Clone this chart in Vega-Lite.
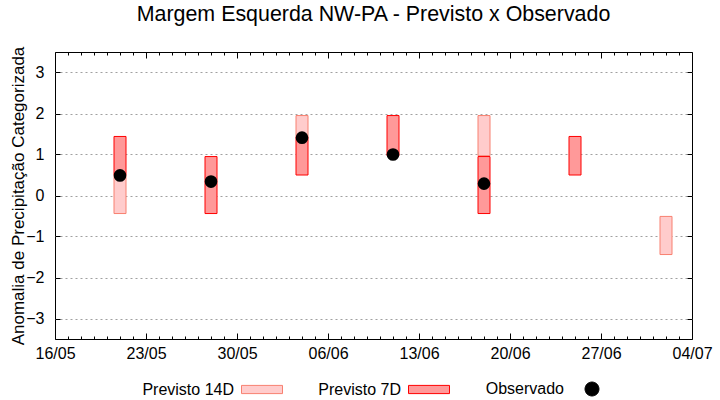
{
  "$schema": "https://vega.github.io/schema/vega-lite/v6.json",
  "width": 637,
  "height": 287,
  "autosize": "none",
  "padding": {"left": 55, "top": 52, "right": 28, "bottom": 61},
  "background": "white",
  "title": {"text": "Margem Esquerda NW-PA - Previsto x Observado", "fontSize": 21.4, "fontWeight": "normal", "font": "Liberation Sans", "color": "black", "offset": 21},
  "datasets": {
    "bars": [
      {"d": "2024-05-21T00:00:00", "s": "Previsto 14D", "lo": -0.44, "hi": 0.5},
      {"d": "2024-06-04T00:00:00", "s": "Previsto 14D", "lo": 1.44, "hi": 1.95},
      {"d": "2024-06-18T00:00:00", "s": "Previsto 14D", "lo": 0.97, "hi": 1.95},
      {"d": "2024-07-02T00:00:00", "s": "Previsto 14D", "lo": -1.44, "hi": -0.51},
      {"d": "2024-05-21T00:00:00", "s": "Previsto 7D", "lo": 0.5, "hi": 1.44},
      {"d": "2024-05-28T00:00:00", "s": "Previsto 7D", "lo": -0.44, "hi": 0.95},
      {"d": "2024-06-04T00:00:00", "s": "Previsto 7D", "lo": 0.5, "hi": 1.44},
      {"d": "2024-06-11T00:00:00", "s": "Previsto 7D", "lo": 0.97, "hi": 1.95},
      {"d": "2024-06-18T00:00:00", "s": "Previsto 7D", "lo": -0.44, "hi": 0.95},
      {"d": "2024-06-25T00:00:00", "s": "Previsto 7D", "lo": 0.5, "hi": 1.44}
    ],
    "obs": [
      {"d": "2024-05-21T00:00:00", "s": "Observado", "v": 0.49},
      {"d": "2024-05-28T00:00:00", "s": "Observado", "v": 0.34},
      {"d": "2024-06-04T00:00:00", "s": "Observado", "v": 1.41},
      {"d": "2024-06-11T00:00:00", "s": "Observado", "v": 1.0},
      {"d": "2024-06-18T00:00:00", "s": "Observado", "v": 0.29}
    ]
  },
  "layer": [
    {
      "data": {"name": "bars"},
      "mark": {"type": "bar", "width": 12, "strokeWidth": 1, "opacity": 1},
      "encoding": {
        "x": {
          "field": "d", "type": "temporal",
          "scale": {"domain": [{"year": 2024, "month": 5, "date": 16}, {"year": 2024, "month": 7, "date": 4}], "nice": false, "padding": 0},
          "axis": {
            "orient": "bottom", "title": null, "domain": false, "grid": false,
            "tickCount": {"interval": "day", "step": 1},
            "labelExpr": "day(datum.value) == 4 ? timeFormat(datum.value, '%d/%m') : ''",
            "labelOverlap": false, "labelFlush": false,
            "tickColor": "black",
            "tickSize": {"condition": {"test": "day(datum.value) == 4", "value": -6}, "value": -3},
            "labelFontSize": 16, "labelColor": "black", "labelPadding": 12
          }
        },
        "y": {
          "field": "lo", "type": "quantitative",
          "scale": {"domain": [-3.5, 3.5], "nice": false, "zero": false},
          "axis": {
            "orient": "left", "values": [-3, -2, -1, 0, 1, 2, 3], "domain": false,
            "title": "Anomalia de Precipitação Categorizada", "titleFontSize": 17, "titleFontWeight": "normal", "titleColor": "black", "titlePadding": -2,
            "grid": true, "gridColor": "#a0a0a0", "gridDash": [2, 3], "gridWidth": 1,
            "tickSize": -5, "tickColor": "black", "labelFontSize": 16, "labelColor": "black", "labelPadding": 16
          }
        },
        "y2": {"field": "hi"},
        "fill": {
          "field": "s", "type": "nominal",
          "scale": {"domain": ["Previsto 14D", "Previsto 7D", "Observado"], "range": ["#ffcccc", "#ff9999", "#000000"]},
          "legend": {
            "title": null, "orient": "none", "legendX": 186, "legendY": 316, "direction": "horizontal",
            "labelAlign": "right", "labelOffset": -49, "columnPadding": 33, "labelFontSize": 16, "labelColor": "black",
            "symbolSize": 1681, "symbolStrokeWidth": 1, "symbolOpacity": 1,
            "encode": {
              "symbols": {"update": {"shape": {"signal": "datum.value === 'Observado' ? 'M-0.34,0A0.34,0.34,0,1,1,0.34,0A0.34,0.34,0,1,1,-0.34,0Z' : 'M-1,-0.2H1V0.2H-1Z'"}}}
            }
          }
        },
        "stroke": {
          "field": "s", "type": "nominal",
          "scale": {"domain": ["Previsto 14D", "Previsto 7D", "Observado"], "range": ["#f88070", "#ff0000", "#000000"]},
          "legend": {
            "title": null, "orient": "none", "legendX": 186, "legendY": 316, "direction": "horizontal",
            "labelAlign": "right", "labelOffset": -49, "columnPadding": 33, "labelFontSize": 16, "labelColor": "black",
            "symbolSize": 1681, "symbolStrokeWidth": 1, "symbolOpacity": 1,
            "encode": {
              "symbols": {"update": {"shape": {"signal": "datum.value === 'Observado' ? 'M-0.34,0A0.34,0.34,0,1,1,0.34,0A0.34,0.34,0,1,1,-0.34,0Z' : 'M-1,-0.2H1V0.2H-1Z'"}}}
            }
          }
        }
      }
    },
    {
      "data": {"name": "obs"},
      "mark": {"type": "point", "shape": "circle", "filled": true, "size": 160, "opacity": 1, "strokeWidth": 0},
      "encoding": {
        "x": {
          "field": "d", "type": "temporal",
          "axis": {
            "orient": "top", "title": null, "domain": false, "grid": false, "labels": false,
            "tickCount": {"interval": "day", "step": 1},
            "tickColor": "black",
            "tickSize": {"condition": {"test": "day(datum.value) == 4", "value": -6}, "value": -3}
          }
        },
        "y": {
          "field": "v", "type": "quantitative",
          "axis": {"orient": "right", "values": [-3, -2, -1, 0, 1, 2, 3], "domain": false, "title": null, "labels": false, "grid": false, "tickSize": -5, "tickColor": "black"}
        },
        "fill": {
          "field": "s", "type": "nominal",
          "legend": {
            "title": null, "orient": "none", "legendX": 186, "legendY": 316, "direction": "horizontal",
            "labelAlign": "right", "labelOffset": -49, "columnPadding": 33, "labelFontSize": 16, "labelColor": "black",
            "symbolSize": 1681, "symbolStrokeWidth": 1, "symbolOpacity": 1,
            "encode": {
              "symbols": {"update": {"shape": {"signal": "datum.value === 'Observado' ? 'M-0.34,0A0.34,0.34,0,1,1,0.34,0A0.34,0.34,0,1,1,-0.34,0Z' : 'M-1,-0.2H1V0.2H-1Z'"}}}
            }
          }
        }
      }
    }
  ],
  "resolve": {"axis": {"x": "independent", "y": "independent"}},
  "config": {
    "font": "Liberation Sans",
    "view": {"stroke": "black", "strokeWidth": 1},
    "axis": {"labelFont": "Liberation Sans", "titleFont": "Liberation Sans"},
    "legend": {"labelFont": "Liberation Sans"}
  }
}
